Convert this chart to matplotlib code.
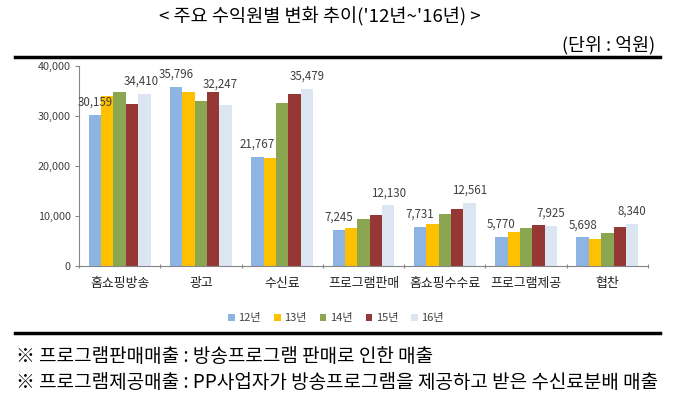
import matplotlib.pyplot as plt
import numpy as np

plt.rcParams['font.family'] = ['Noto Sans CJK KR', 'DejaVu Sans']

# 데이터 (단위: 억원)
categories = ['홈쇼핑방송', '광고', '수신료', '프로그램판매', '홈쇼핑수수료', '프로그램제공', '협찬']
years = ['12년', '13년', '14년', '15년', '16년']
v12 = [30159, 35796, 21767, 7245, 7731, 5770, 5698]
v13 = [34060, 34720, 21500, 7480, 8280, 6740, 5280]
v14 = [34720, 33000, 32520, 9350, 10350, 7480, 6540]
v15 = [32450, 34720, 34320, 10220, 11350, 8080, 7750]
v16 = [34410, 32247, 35479, 12130, 12561, 7925, 8340]
colors = ['#8DB4E2', '#FFC000', '#8AA650', '#953735', '#DCE6F2']

fig = plt.figure(figsize=(6.74, 3.99), dpi=100)
ax = fig.add_axes([79 / 674, 1 - 265.7 / 399, (648 - 79) / 674, (265.7 - 66) / 399])

x = np.arange(len(categories))
w = 0.152
series = [v12, v13, v14, v15, v16]
# 겹치는 라벨은 위로 조금 옮김 (원본처럼)
label_shift = {(4, 1): (-4, 14.5), (4, 0): (-2, 9)}
for i, (vals, c, yr) in enumerate(zip(series, colors, years)):
    pos = x + (i - 2) * w
    ax.bar(pos, vals, w, color=c, label=yr)
    # 12년, 16년만 값 표시
    if i in (0, 4):
        for j, (px, v) in enumerate(zip(pos, vals)):
            dx, dy = label_shift.get((i, j), (0, 9))
            ax.annotate(f'{v:,}', (px, v), xytext=(dx, dy), textcoords='offset points',
                        ha='center', va='center', fontsize=8.3, color='#404040')

ax.set_xlim(-0.5, len(categories) - 0.5)
ax.set_ylim(0, 40000)
ax.set_yticks(range(0, 40001, 10000))
ax.set_yticklabels([f'{t:,}' for t in range(0, 40001, 10000)], fontsize=7.8, color='#404040')
ax.set_xticks(np.arange(-0.5, len(categories), 1.0))
ax.set_xticklabels([])
ax.set_xticks(x, minor=True)
ax.set_xticklabels(categories, minor=True, fontsize=9.3, color='#202020')
ax.tick_params(axis='x', which='minor', length=0, pad=8)
ax.tick_params(axis='x', which='major', length=3, color='#868686', direction='inout')
ax.tick_params(axis='y', length=3, color='#868686', direction='out', pad=3)
for s in ['top', 'right']:
    ax.spines[s].set_visible(False)
ax.spines['left'].set_color('#868686')
ax.spines['bottom'].set_color('#868686')

ax.legend(loc='center', bbox_to_anchor=(336 / 674, 1 - 318 / 399), bbox_transform=fig.transFigure,
          ncol=5, frameon=False, fontsize=8, handlelength=0.6, handleheight=0.6,
          handletextpad=0.3, columnspacing=1.2, labelcolor='#404040')

# 제목과 주석
fig.text(320 / 674, 1 - 17 / 399, "< 주요 수익원별 변화 추이('12년~'16년) >", ha='center', va='center', fontsize=13.4)
fig.text(655 / 674, 1 - 45 / 399, '(단위 : 억원)', ha='right', va='center', fontsize=13.2)
fig.add_artist(plt.Line2D([15 / 674, 660 / 674], [1 - 57 / 399] * 2, color='black', lw=2.5))
fig.add_artist(plt.Line2D([15 / 674, 660 / 674], [1 - 333 / 399] * 2, color='black', lw=2.5))
fig.text(16 / 674, 1 - 356 / 399, '※ 프로그램판매매출 : 방송프로그램 판매로 인한 매출', ha='left', va='center', fontsize=13.7)
fig.text(16 / 674, 1 - 382 / 399, '※ 프로그램제공매출 : PP사업자가 방송프로그램을 제공하고 받은 수신료분배 매출',
         ha='left', va='center', fontsize=13.7)

fig.savefig('out.png', dpi=100)
